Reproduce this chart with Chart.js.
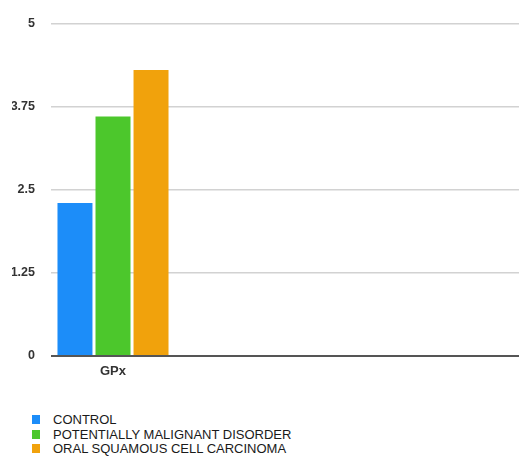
<!DOCTYPE html>
<html>
<head>
<meta charset="utf-8">
<title>GPx</title>
<script src="https://cdn.jsdelivr.net/npm/chart.js@4.4.1/dist/chart.umd.min.js"></script>
<style>
  html, body { margin: 0; padding: 0; background: #fff; }
  body { width: 519px; height: 456px; overflow: hidden; position: relative; font-family: "Liberation Sans", Arial, sans-serif; }
  #wrap { position: absolute; left: 0; top: 0; width: 550px; height: 380px; }
  #legend { position: absolute; left: 32px; top: 412px; margin: 0; padding: 0; list-style: none; }
  #legend li { display: flex; align-items: center; height: 14.7px; font-size: 13px; color: #1a1a1a; white-space: nowrap; }
  #legend span.box { display: inline-block; width: 8px; height: 9px; margin-right: 13px; }
</style>
</head>
<body>
<div id="wrap"><canvas id="bar-chart"></canvas></div>
<ul id="legend"></ul>
<script>
'use strict';
// only the first slot holds data, the rest of the axis is left empty
const categories = ['GPx', '', '', ''];
const controlValues = [2.3, null, null, null];
const pmdValues = [3.6, null, null, null];
const osccValues = [4.3, null, null, null];
const yTicks = [0, 1.25, 2.5, 3.75, 5];

const seriesNames = ['CONTROL', 'POTENTIALLY MALIGNANT DISORDER', 'ORAL SQUAMOUS CELL CARCINOMA'];
const seriesColors = ['#1c8df9', '#4cc72c', '#f1a20c'];

Chart.defaults.font.family = '"Liberation Sans", Arial, sans-serif';

const chart = new Chart(document.getElementById('bar-chart'), {
  type: 'bar',
  data: {
    labels: categories,
    datasets: [controlValues, pmdValues, osccValues].map((values, i) => {
      return {
        label: seriesNames[i],
        data: values,
        backgroundColor: seriesColors[i],
        borderWidth: 0,
        categoryPercentage: 0.92,
        barPercentage: 0.92
      };
    })
  },
  options: {
    responsive: true,
    maintainAspectRatio: false,
    animation: false,
    layout: { padding: { top: 22, left: 12, right: 3, bottom: 0 } },
    plugins: {
      legend: { display: false },
      tooltip: { enabled: false }
    },
    scales: {
      x: {
        grid: { display: false, drawTicks: false },
        border: { display: false },
        ticks: { color: '#333', font: { size: 13, weight: 'bold' }, padding: 8, maxRotation: 0 },
        afterFit: axis => { axis.height = 24; }
      },
      y: {
        min: 0,
        max: 5,
        afterBuildTicks: axis => {
          axis.ticks = yTicks.map(v => ({ value: v }));
        },
        afterFit: axis => { axis.width = 39; },
        border: { display: false },
        grid: {
          drawTicks: false,
          color: ctx => ctx.tick && ctx.tick.value === 0 ? '#555' : '#d2d2d2',
          lineWidth: ctx => ctx.tick && ctx.tick.value === 0 ? 2 : 1.5
        },
        ticks: {
          color: '#333',
          font: { size: 12.5, weight: 'bold' },
          padding: 16,
          callback: v => String(v)
        }
      }
    }
  }
});

// vertical legend under the chart
const legendList = document.getElementById('legend');
chart.data.datasets.forEach(ds => {
  const li = document.createElement('li');
  const box = document.createElement('span');
  box.className = 'box';
  box.style.background = ds.backgroundColor;
  li.appendChild(box);
  li.appendChild(document.createTextNode(ds.label));
  legendList.appendChild(li);
});
</script>
</body>
</html>
